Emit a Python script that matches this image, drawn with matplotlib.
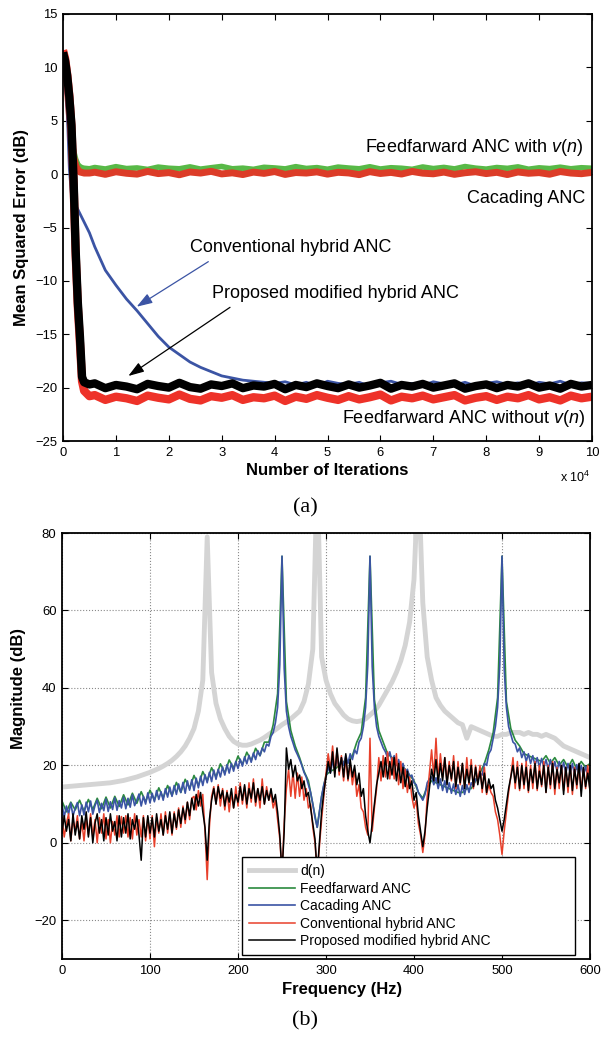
import numpy as np
import matplotlib.pyplot as plt
from matplotlib.ticker import FuncFormatter

plt.rcParams['font.family'] = ['Liberation Sans', 'DejaVu Sans']
plt.rcParams['mathtext.fontset'] = 'custom'
plt.rcParams['mathtext.rm'] = 'Liberation Sans'
plt.rcParams['mathtext.it'] = 'Liberation Sans:italic'

# ---------------- (a) learning curves ----------------
iters = np.concatenate([[0, 400, 800, 1200, 1600, 2000, 2400, 2800, 3200, 3600, 4000, 5000],
                        np.arange(6000, 100001, 2000)])

mse_ff_v = [11.5, 10.5, 8.5, 6.0, 3.6, 2.2, 1.4, 0.9, 0.7, 0.6, 0.55, 0.5,
            0.62, 0.48, 0.7, 0.52, 0.58, 0.44, 0.66, 0.55,
            0.5, 0.68, 0.47, 0.6, 0.72, 0.5, 0.56, 0.45,
            0.64, 0.58, 0.49, 0.7, 0.53, 0.61, 0.46, 0.66,
            0.57, 0.5, 0.69, 0.48, 0.6, 0.55, 0.45, 0.67,
            0.52, 0.63, 0.49, 0.71, 0.56, 0.47, 0.62, 0.54,
            0.68, 0.46, 0.59, 0.52, 0.65, 0.5, 0.6, 0.55]
mse_cascade = [11.6, 10.4, 8.2, 5.6, 3.2, 1.6, 0.8, 0.4, 0.2, 0.15, 0.1, 0.1,
               0.18, -0.02, 0.22, 0.08, 0.0, 0.25, 0.05, 0.14,
               -0.06, 0.2, 0.1, 0.26, 0.02, 0.12, -0.04, 0.19,
               0.07, 0.24, -0.03, 0.15, 0.1, 0.21, 0.0, 0.17,
               0.11, -0.05, 0.23, 0.06, 0.16, 0.01, 0.25, 0.09,
               0.03, 0.19, -0.02, 0.13, 0.22, 0.05, 0.17, -0.04,
               0.2, 0.08, 0.14, -0.01, 0.24, 0.1, 0.04, 0.16]
mse_conv = [11.0, 9.0, 6.0, 0.5, -1.9, -2.4, -2.9, -3.3, -3.7, -4.1, -4.5, -5.5,
            -6.8, -9.0, -10.4, -11.7, -12.8, -14.0, -15.2, -16.2, -16.9, -17.6,
            -18.1, -18.5, -18.9, -19.1, -19.3, -19.4, -19.5, -19.6,
            -19.45, -19.75, -19.5, -19.85, -19.4, -19.6, -19.7, -19.5, -19.9, -19.55,
            -19.4, -19.7, -19.6, -19.8, -19.45, -19.65, -19.75, -19.5, -19.85, -19.6,
            -19.45, -19.7, -19.55, -19.8, -19.5, -19.65, -19.4, -19.75, -19.55, -19.6]
mse_ff_nov = [11.6, 10.8, 9.3, 7.3, 4.4, -0.8, -7.6, -12.4, -15.8, -19.4, -20.3, -20.8,
              -20.7, -21.15, -20.85, -21.0, -21.25, -20.75, -20.95, -21.1,
              -20.65, -21.05, -21.2, -20.8, -20.95, -20.7, -21.15, -20.9,
              -21.0, -20.75, -21.25, -20.85, -21.05, -20.7, -20.95, -21.15,
              -20.8, -21.1, -20.9, -20.65, -21.2, -20.85, -21.0, -20.75,
              -21.1, -20.9, -20.7, -21.2, -20.95, -20.8, -21.15, -20.85,
              -21.0, -20.7, -21.1, -20.9, -21.2, -20.75, -21.0, -20.85]
mse_proposed = [11.4, 10.6, 9.2, 7.2, 4.6, -0.5, -7.2, -12.0, -15.2, -19.0, -19.5, -19.7,
                -19.6, -20.05, -19.75, -19.9, -20.15, -19.65, -19.85, -20.0,
                -19.55, -19.95, -20.1, -19.7, -19.85, -19.6, -20.05, -19.8,
                -19.9, -19.65, -20.15, -19.75, -19.95, -19.6, -19.85, -20.05,
                -19.7, -20.0, -19.8, -19.55, -20.1, -19.75, -19.9, -19.65,
                -20.0, -19.8, -19.6, -20.1, -19.85, -19.7, -20.05, -19.75,
                -19.9, -19.6, -20.0, -19.8, -20.1, -19.65, -19.9, -19.75]

# ---------------- (b) spectra ----------------
freq = np.arange(0, 601, 5)          # 5 Hz bins (d(n), feedforward)
freq_fine = np.arange(0, 600.1, 2.5)  # 2.5 Hz bins (other residuals)

spec_d = [14.4, 14.5, 14.6, 14.7, 14.8, 14.9, 15.0, 15.1, 15.2, 15.3,
          15.4, 15.5, 15.7, 15.9, 16.1, 16.4, 16.7, 17.0, 17.4, 17.8,
          18.2, 18.7, 19.2, 19.8, 20.5, 21.3, 22.3, 23.5, 25.0, 27.0,
          29.5, 34.0, 42.0, 79.0, 44.0, 36.0, 32.0, 29.5, 27.5, 26.2,
          25.5, 25.2, 25.2, 25.5, 26.0, 26.5, 27.2, 28.0, 28.8, 29.6,
          30.5, 31.2, 32.0, 33.0, 34.0, 36.5, 41.0, 50.0, 95.0, 48.0,
          42.0, 38.5, 36.0, 34.5, 33.0, 32.0, 31.5, 31.3, 31.5, 32.0,
          33.0, 34.0, 35.5, 37.5, 39.5, 41.5, 44.0, 47.0, 51.0, 57.0,
          68.0, 95.0, 62.0, 48.0, 42.0, 37.5, 35.5, 34.0, 33.0, 32.0,
          31.0, 30.5, 27.0, 30.0, 29.5, 29.0, 28.5, 28.0, 27.5, 27.5,
          28.0, 28.0, 28.5, 28.5, 28.5, 28.0, 28.5, 28.0, 28.0, 27.5,
          28.0, 27.5, 27.0, 26.0, 25.0, 24.5, 24.0, 23.5, 23.0, 22.5,
          22.0]
spec_ff = [10.8, 8.0, 10.5, 8.5, 11.0, 8.2, 11.2, 8.6, 11.5, 8.8,
           11.8, 9.0, 12.0, 9.4, 12.4, 9.8, 12.8, 10.2, 13.2, 10.6,
           13.6, 11.0, 14.2, 11.6, 14.8, 12.2, 15.6, 13.0, 16.4, 14.0,
           17.4, 14.8, 18.4, 16.0, 19.4, 17.0, 20.4, 18.0, 21.4, 19.2,
           22.4, 20.2, 23.4, 21.2, 24.4, 22.5, 26.0, 26.0, 30.5, 38.5,
           74.0, 36.5, 29.0, 25.0, 22.0, 18.5, 16.0, 10.0, 4.0, 12.0,
           17.5, 18.5, 19.0, 20.0, 21.0, 21.0, 22.5, 26.0, 28.5, 37.5,
           74.0, 37.0, 29.0, 26.0, 23.0, 22.0, 21.0, 20.0, 19.0, 17.5,
           16.0, 13.0, 11.5, 14.5, 16.0, 15.5, 15.0, 14.5, 14.0, 13.5,
           13.0, 13.0, 14.0, 14.0, 16.0, 18.0, 20.5, 24.0, 28.5, 37.5,
           74.0, 36.5, 29.5, 26.5, 25.0, 23.0, 22.5, 22.0, 21.5, 21.0,
           22.5, 20.5, 22.0, 20.0, 21.5, 19.5, 21.5, 19.0, 21.0, 19.5,
           20.5]
spec_cascade = [10.0, 6.6, 9.5, 7.4, 10.3, 6.9, 9.0, 10.4, 7.0, 9.8,
                7.2, 10.5, 8.0, 10.8, 7.4, 9.6, 11.0, 7.8, 10.2, 8.3,
                11.3, 8.1, 10.6, 8.6, 11.6, 8.4, 10.9, 9.0, 11.8, 8.8,
                11.5, 9.2, 12.4, 9.6, 11.0, 12.6, 9.5, 12.0, 10.0, 12.9,
                10.3, 12.8, 10.6, 13.5, 11.2, 13.2, 11.0, 14.0, 11.8, 14.4,
                12.0, 14.8, 12.5, 15.2, 13.0, 15.6, 12.8, 16.0, 13.6, 16.3,
                13.5, 16.7, 14.2, 17.2, 14.8, 17.6, 15.5, 18.2, 15.8, 18.8,
                16.4, 19.0, 17.0, 19.6, 17.5, 20.2, 18.0, 20.5, 18.5, 21.0,
                19.2, 21.6, 19.8, 22.2, 20.4, 22.6, 20.8, 23.2, 21.5, 23.8,
                22.5, 24.5, 23.5, 25.5, 25.0, 27.5, 28.5, 31.0, 35.0, 46.0,
                74.0, 45.0, 34.0, 30.0, 27.5, 25.8, 24.0, 22.8, 21.5, 20.0,
                18.2, 17.0, 15.0, 13.0, 10.0, 6.5, 4.0, 8.0, 12.0, 15.0,
                17.0, 19.5, 18.0, 21.0, 19.0, 21.8, 19.5, 22.0, 20.0, 22.5,
                20.5, 23.0, 21.5, 24.0, 23.0, 26.0, 27.0, 30.0, 35.0, 46.0,
                74.0, 45.5, 35.0, 30.0, 27.5, 26.0, 24.5, 23.5, 22.0, 23.5,
                21.0, 22.5, 20.0, 21.5, 19.0, 20.5, 18.0, 19.0, 17.0, 17.5,
                15.5, 15.0, 13.0, 12.0, 11.0, 12.5, 15.5, 16.5, 17.0, 15.0,
                16.8, 14.0, 16.5, 13.5, 16.0, 13.0, 15.5, 12.8, 15.2, 12.5,
                15.0, 12.0, 14.8, 12.5, 15.0, 13.0, 15.5, 14.5, 16.5, 16.0,
                18.0, 17.5, 20.5, 20.0, 23.0, 24.0, 27.0, 30.0, 35.0, 46.0,
                74.0, 45.0, 35.0, 30.0, 28.0, 26.0, 25.5, 23.5, 24.5, 22.0,
                23.5, 21.0, 23.0, 20.5, 22.5, 20.0, 22.0, 19.5, 21.8, 19.5,
                21.5, 19.0, 21.5, 18.8, 21.0, 18.5, 21.0, 18.5, 20.8, 18.0,
                20.5, 18.0, 20.5, 17.5, 20.2, 17.8, 20.0, 17.2, 19.8, 17.0,
                19.5]
spec_conv = [6.5, 1.5, 5.0, 7.5, 0.5, 6.0, 3.0, 7.0, 1.0, 5.5,
             0.5, 6.5, 2.0, 7.5, 1.5, 6.0, 0.0, 6.5, 2.5, 7.5,
             1.0, 6.0, 0.0, 5.5, 2.0, 7.0, 1.5, 6.8, 2.5, 7.0,
             1.5, 6.5, 1.0, 7.5, 2.0, 6.0, 1.5, 7.0, 0.5, 6.5,
             1.0, 7.0, -1.0, 6.5, 2.5, 7.5, 2.0, 8.0, 2.5, 7.5,
             2.0, 8.0, 3.5, 9.0, 4.0, 9.5, 5.0, 10.5, 6.0, 11.5,
             12.0, 8.5, 13.5, 9.5, 12.5, 3.0, -9.5, 4.0, 12.0, 14.5,
             10.0, 15.0, 9.5, 14.0, 8.5, 13.5, 8.0, 13.0, 9.0, 14.5,
             9.5, 15.5, 10.0, 14.5, 9.0, 15.5, 10.5, 16.5, 9.5, 14.0,
             9.0, 16.5, 10.0, 14.5, 11.0, 13.0, 9.0, 11.0, 6.0, 1.0,
             -8.0, 5.0, 14.0, 19.0, 12.0, 18.5, 11.5, 18.0, 12.0, 17.0,
             11.0, 14.0, 9.0, 10.0, 4.0, 0.0, -8.0, -1.0, 6.0, 12.0,
             18.0, 23.0, 19.0, 25.0, 18.0, 24.0, 17.5, 22.5, 16.0, 22.0,
             16.0, 20.5, 15.0, 19.0, 12.0, 15.0, 9.0, 8.0, 4.0, 2.0,
             27.0, 3.0, 9.0, 14.0, 22.0, 16.0, 22.5, 17.0, 23.5, 16.5,
             22.0, 16.5, 23.0, 15.0, 21.0, 14.0, 19.0, 13.0, 17.0, 12.0,
             9.0, 11.0, 5.0, 2.0, -2.5, 2.0, 12.0, 18.0, 24.0, 17.0,
             27.0, 16.0, 23.0, 17.0, 22.0, 15.5, 21.0, 16.0, 22.5, 14.0,
             21.0, 15.0, 20.5, 14.5, 22.0, 15.0, 21.5, 14.0, 20.0, 15.5,
             20.0, 13.0, 19.5, 12.5, 15.0, 13.0, 12.0, 8.0, 6.0, 2.0,
             -3.0, 3.0, 8.0, 13.0, 17.0, 22.0, 14.0, 21.0, 13.5, 20.5,
             14.0, 21.0, 13.0, 20.0, 14.0, 21.0, 13.5, 20.0, 14.5, 21.0,
             13.0, 20.0, 14.0, 21.0, 12.5, 19.5, 14.0, 20.0, 13.5, 19.5,
             13.0, 20.0, 12.5, 19.5, 14.0, 20.0, 13.5, 19.0, 14.0, 20.0,
             13.0]
spec_proposed = [2.5, 7.0, 3.0, 6.0, 0.5, 7.5, 2.0, 5.5, 1.0, 7.0,
                 3.5, 8.0, 1.5, 6.5, 0.0, 5.0, 7.5, 2.5, 6.0, 0.5,
                 6.5, 2.0, 7.5, 3.0, 5.5, 0.5, 7.0, 1.5, 6.5, 2.5,
                 7.5, 1.0, 6.0, 3.5, 7.0, 2.0, -4.5, 6.5, 1.5, 7.0,
                 2.5, 6.5, 1.5, 7.5, 3.0, 6.0, 2.0, 7.0, 3.5, 8.0,
                 2.5, 7.5, 4.0, 8.5, 5.0, 9.0, 6.0, 10.5, 7.0, 11.5,
                 8.5, 12.5, 9.5, 13.0, 8.0, 4.0, -4.5, 6.0, 11.0, 14.0,
                 10.0, 14.5, 11.5, 13.5, 9.5, 13.0, 10.5, 14.0, 9.0, 12.5,
                 10.5, 14.5, 11.0, 15.0, 10.0, 14.0, 11.5, 15.5, 10.5, 14.0,
                 11.0, 14.5, 10.0, 13.5, 11.0, 14.0, 10.5, 12.5, 8.0, 2.0,
                 -8.0, 3.0, 24.5, 19.0, 21.5, 17.0, 20.0, 16.0, 17.5, 14.0,
                 16.0, 12.0, 13.0, 9.0, 5.0, 1.0, -8.0, 0.0, 8.0, 13.0,
                 17.0, 21.0, 18.0, 23.5, 17.0, 24.5, 18.5, 22.0, 17.0, 23.0,
                 16.5, 21.5, 17.0, 20.0, 15.0, 18.0, 12.0, 14.0, 7.0, 3.0,
                 0.0, 5.0, 10.0, 15.0, 18.0, 21.0, 17.0, 22.0, 16.5, 21.0,
                 17.5, 22.0, 16.0, 20.5, 15.5, 19.5, 14.5, 18.5, 14.0, 16.0,
                 11.0, 13.0, 7.0, 3.0, -1.0, 3.0, 9.0, 14.0, 19.0, 16.0,
                 21.5, 15.5, 20.5, 16.0, 22.0, 15.0, 20.0, 16.5, 21.0, 14.5,
                 19.5, 15.5, 20.5, 14.0, 19.0, 15.5, 20.0, 14.5, 19.5, 15.0,
                 18.5, 14.0, 18.0, 13.0, 16.5, 14.0, 15.0, 11.0, 9.0, 6.0,
                 3.0, 6.0, 10.0, 14.0, 17.0, 20.0, 15.5, 19.5, 14.0, 20.0,
                 15.0, 19.5, 13.5, 19.0, 15.5, 20.5, 14.0, 18.5, 15.0, 20.0,
                 13.0, 19.5, 15.0, 20.5, 14.0, 19.0, 15.5, 20.0, 12.5, 19.5,
                 14.5, 20.0, 13.5, 19.0, 15.0, 20.5, 12.0, 19.5, 14.5, 18.0,
                 13.5]

fig = plt.figure(figsize=(6.01, 10.37), dpi=100)
W, H = 601, 1037

# ---- top axes ----
ax1 = fig.add_axes([63 / W, 1 - 441 / H, 529 / W, 427 / H])
ax1.plot(iters, mse_ff_v, color='#58b947', lw=4.0, solid_capstyle='butt')
ax1.plot(iters, mse_cascade, color='#dc3c28', lw=5.0, solid_capstyle='butt')
ax1.plot(iters, mse_conv, color='#3b54a4', lw=2.0, solid_capstyle='butt')
ax1.plot(iters, mse_ff_nov, color='#ee3229', lw=6.0, solid_capstyle='butt')
ax1.plot(iters, mse_proposed, color='black', lw=6.0, solid_capstyle='butt')

ax1.set_xlim(0, 100000)
ax1.set_ylim(-25, 15)
ax1.set_xticks(np.arange(0, 100001, 10000))
ax1.set_yticks(np.arange(-25, 16, 5))
ax1.xaxis.set_major_formatter(FuncFormatter(lambda v, p: f'{v / 1e4:g}'))
ax1.set_xlabel('Number of Iterations', fontsize=12, fontweight='bold')
ax1.set_ylabel('Mean Squared Error (dB)', fontsize=12, fontweight='bold')
ax1.xaxis.set_label_coords(0.5, -0.052)
ax1.yaxis.set_label_coords(-0.065, 0.5)
ax1.text(0.996, -0.085, r'x 10$^4$', transform=ax1.transAxes,
         ha='right', va='center', fontsize=9)

ax1.text(98300, 2.10, r'Feedfarward ANC with $v$($n$)', ha='right', va='baseline', fontsize=13)
ax1.text(98700, -2.73, 'Cacading ANC', ha='right', va='baseline', fontsize=13)
ax1.text(24000, -7.27, 'Conventional hybrid ANC', ha='left', va='baseline', fontsize=13)
ax1.text(28100, -11.63, 'Proposed modified hybrid ANC', ha='left', va='baseline', fontsize=13)
ax1.text(98700, -23.34, r'Feedfarward ANC without $v$($n$)', ha='right', va='baseline', fontsize=13)

ax1.annotate('', xy=(13930, -12.42), xytext=(27470, -8.2),
             arrowprops=dict(arrowstyle='-|>,head_length=0.95,head_width=0.32',
                             color='#3b54a4', lw=0.9, shrinkA=0, shrinkB=0,
                             mutation_scale=10))
ax1.annotate('', xy=(12350, -18.91), xytext=(31570, -12.48),
             arrowprops=dict(arrowstyle='-|>,head_length=0.95,head_width=0.32',
                             color='black', lw=0.9, shrinkA=0, shrinkB=0,
                             mutation_scale=10))

# ---- bottom axes ----
ax2 = fig.add_axes([62 / W, 1 - 959 / H, 528 / W, 426 / H])
ax2.plot(freq, spec_d, color='#d4d4d4', lw=3.5, label='d(n)')
ax2.plot(freq, spec_ff, color='#2b8a3e', lw=1.2, label='Feedfarward ANC')
ax2.plot(freq_fine, spec_cascade, color='#3b54a4', lw=1.2, label='Cacading ANC')
ax2.plot(freq_fine, spec_conv, color='#e8402b', lw=1.1, label='Conventional hybrid ANC')
ax2.plot(freq_fine, spec_proposed, color='black', lw=1.1, label='Proposed modified hybrid ANC')

ax2.set_xlim(0, 600)
ax2.set_ylim(-30, 80)
ax2.set_xticks(np.arange(0, 601, 100))
ax2.set_yticks(np.arange(-20, 81, 20))
ax2.grid(True, linestyle=':', color='#8a8a8a', linewidth=0.8)
ax2.set_xlabel('Frequency (Hz)', fontsize=12, fontweight='bold')
ax2.set_ylabel('Magnitude (dB)', fontsize=12, fontweight='bold')
ax2.xaxis.set_label_coords(0.53, -0.055)
ax2.yaxis.set_label_coords(-0.068, 0.636)

leg = ax2.legend(loc='lower left', bbox_to_anchor=(0.341, 0.0094, 0.6306, 0.23),
                 mode='expand', fontsize=10, frameon=True, fancybox=False,
                 edgecolor='black', framealpha=1, handlelength=3.3,
                 handletextpad=0.4, borderpad=0.5, labelspacing=0.25,
                 borderaxespad=0)
leg.get_frame().set_linewidth(1.0)

for ax in (ax1, ax2):
    ax.tick_params(direction='in', top=True, right=True, length=4, width=0.8,
                   labelsize=9.4, pad=4)
    for s in ax.spines.values():
        s.set_linewidth(1.3)

fig.text(305 / W, 1 - 508 / H, '(a)', ha='center', va='center',
         family='Liberation Serif', fontsize=16)
fig.text(305 / W, 1 - 1021 / H, '(b)', ha='center', va='center',
         family='Liberation Serif', fontsize=16)

fig.savefig('out.png', dpi=100)
